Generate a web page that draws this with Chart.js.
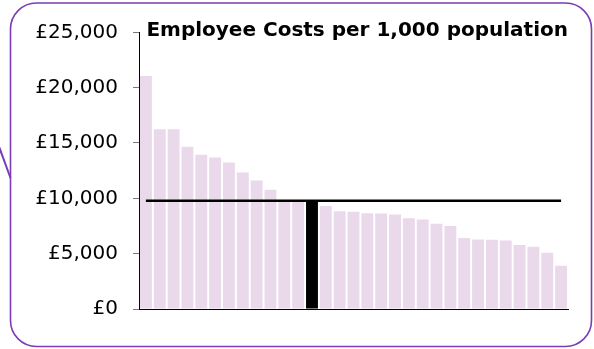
<!DOCTYPE html>
<html>
<head>
<meta charset="utf-8">
<script src="https://cdn.jsdelivr.net/npm/chart.js@4"></script>
<style>
    html, body { margin: 0; padding: 0; background: #fff; }
    #wrap { position: relative; width: 594px; height: 349px; }
</style>
</head>
<body>
<div id="wrap"><canvas id="costChart" width="594" height="349"></canvas></div>
<script>
// authorities, ranked by cost (no names shown on the axis)
const authorities = Array.from({ length: 31 }, (_, i) => 'LA ' + (i + 1));
const employeeCosts = [21050, 16240, 16240, 14650, 13930, 13680, 13230, 12330, 11610, 10770,
    9800, 9800, 9720, 9300, 8840, 8780, 8660, 8630, 8540, 8210,
    8090, 7700, 7490, 6410, 6280, 6250, 6190, 5780, 5620, 5080, 3910];
const highlightIndex = 12;
const averageCost = 9770;
const yTicks = [0, 5000, 10000, 15000, 20000, 25000];

const BAR_COLOR = '#EAD8EB';
const FRAME_COLOR = '#7A3DB3';

const barColors = employeeCosts.map((_, i) => i === highlightIndex ? '#000000' : BAR_COLOR);

// rounded purple frame + callout stroke on the left
const framePlugin = {
    id: 'frame',
    beforeDraw(chart) {
        const ctx = chart.ctx;
        ctx.save();
        ctx.strokeStyle = FRAME_COLOR;
        ctx.lineWidth = 1.6;
        ctx.beginPath();
        ctx.roundRect(10.5, 3, 581, 343.5, 26);
        ctx.stroke();
        ctx.beginPath();
        ctx.moveTo(-3, 141);
        ctx.lineTo(10.5, 178);
        ctx.lineWidth = 2;
        ctx.stroke();
        ctx.restore();
    }
};

new Chart(document.getElementById('costChart'), {
    type: 'bar',
    data: {
        labels: authorities,
        datasets: [{
            type: 'line',
            data: authorities.map(() => averageCost),
            borderColor: '#000000',
            borderWidth: 2.5,
            pointRadius: 0,
            fill: false,
            order: 0
        }, {
            data: employeeCosts,
            backgroundColor: barColors,
            borderWidth: 0,
            categoryPercentage: 1,
            barPercentage: 0.86,
            order: 1
        }]
    },
    options: {
        responsive: false,
        animation: false,
        layout: { padding: { top: 0, right: 26, bottom: 40, left: 0 } },
        plugins: {
            legend: { display: false },
            tooltip: { enabled: false },
            title: {
                display: true,
                text: 'Employee Costs per 1,000 population',
                align: 'end',
                color: '#000000',
                font: { family: 'Verdana, "DejaVu Sans", sans-serif', size: 20, weight: 'bold' },
                padding: { top: 19, bottom: -10.7 }
            }
        },
        scales: {
            x: {
                grid: { display: true, drawOnChartArea: false, drawTicks: false },
                border: { display: true, color: '#000000', width: 1 },
                ticks: { display: false },
                afterFit: s => { s.height = 0; }
            },
            y: {
                min: 0,
                max: 25000,
                afterBuildTicks: s => { s.ticks = yTicks.map(v => ({ value: v })); },
                afterFit: s => { s.width = 139; },
                grid: { drawOnChartArea: false, tickLength: 6, color: '#777777' },
                border: { display: true, color: '#000000', width: 1 },
                ticks: {
                    color: '#000000',
                    padding: 15,
                    font: { family: 'Verdana, "DejaVu Sans", sans-serif', size: 20 },
                    callback: v => '£' + v.toLocaleString('en-GB')
                }
            }
        }
    },
    plugins: [framePlugin]
});
</script>
</body>
</html>
